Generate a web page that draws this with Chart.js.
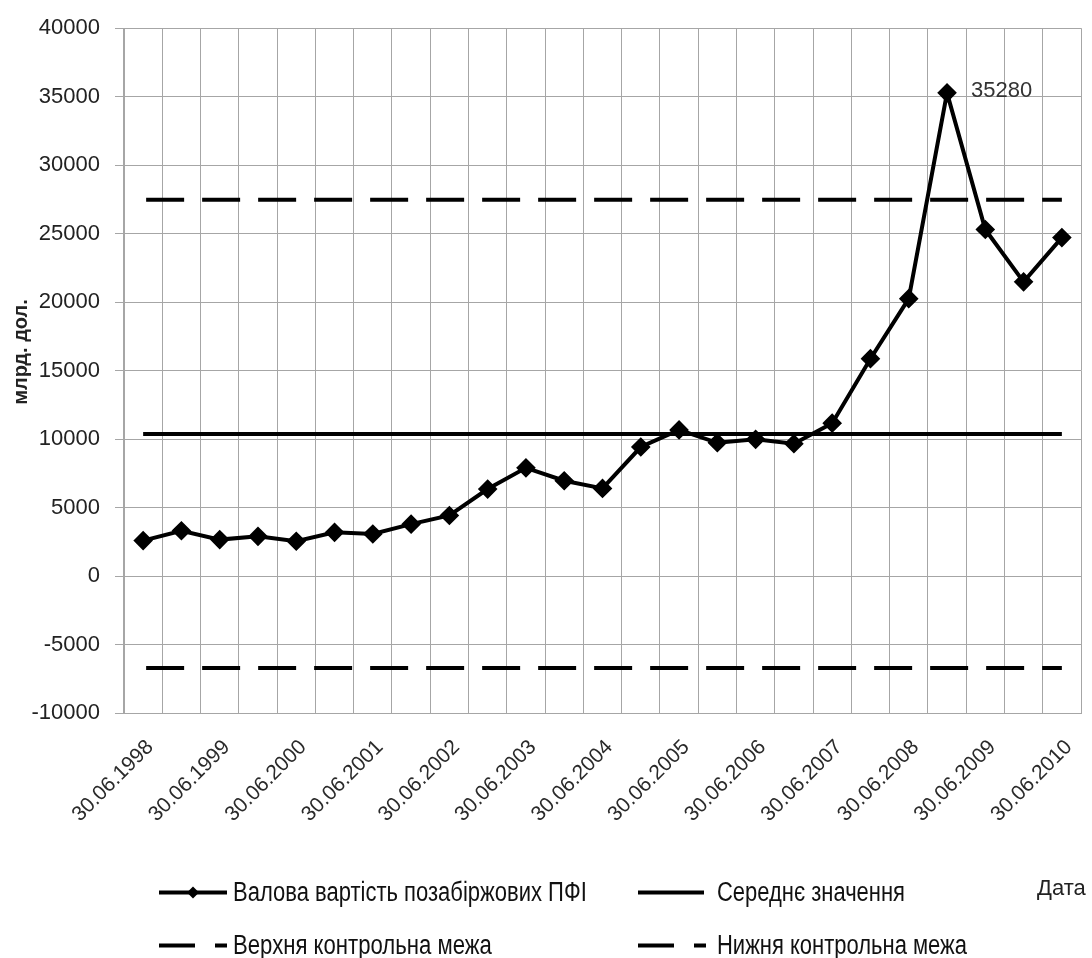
<!DOCTYPE html>
<html>
<head>
<meta charset="utf-8">
<script src="https://cdn.jsdelivr.net/npm/chart.js@4.4.1/dist/chart.umd.min.js"></script>
<style>
  html, body { margin: 0; padding: 0; background: #ffffff; }
  #wrap { position: relative; width: 1092px; height: 958px; overflow: hidden; background: #fff; }
  #c { position: absolute; left: 0; top: 0; }
  .leg { position: absolute; display: flex; align-items: center; font-family: "Liberation Sans", Arial, sans-serif; font-size: 27px; color: #111; white-space: nowrap; }
  .leg svg { flex: none; }
  .leg span { display: inline-block; transform-origin: left center; }
  #xtitle { position: absolute; font-family: "Liberation Sans", Arial, sans-serif; font-size: 22px; color: #222; transform: translateY(-50%); }
</style>
</head>
<body>
<div id="wrap">
  <canvas id="c" width="1092" height="958"></canvas>
  <div class="leg" id="leg1" style="left:158px; top:892px;"></div>
  <div class="leg" id="leg2" style="left:637px; top:892px;"></div>
  <div class="leg" id="leg3" style="left:158px; top:945px;"></div>
  <div class="leg" id="leg4" style="left:637px; top:945px;"></div>
  <div id="xtitle" style="left:1037px; top:888px;">Дата</div>
</div>
<script>
// ---- data ----
const categories = [
  "30.06.1998","31.12.1998","30.06.1999","31.12.1999","30.06.2000","31.12.2000",
  "30.06.2001","31.12.2001","30.06.2002","31.12.2002","30.06.2003","31.12.2003",
  "30.06.2004","31.12.2004","30.06.2005","31.12.2005","30.06.2006","31.12.2006",
  "30.06.2007","31.12.2007","30.06.2008","31.12.2008","30.06.2009","31.12.2009",
  "30.06.2010"
];
const grossValue = [2590, 3310, 2660, 2900, 2540, 3190, 3070, 3790, 4420, 6350,
  7900, 6960, 6400, 9420, 10670, 9730, 9980, 9660, 11160, 15870,
  20250, 35280, 25300, 21480, 24710];
const meanValue = 10380;
const upperLimit = 27480;
const lowerLimit = -6720;
const yTicks = [-10000, -5000, 0, 5000, 10000, 15000, 20000, 25000, 30000, 35000, 40000];
const seriesNames = ["Валова вартість позабіржових ПФІ", "Середнє значення",
  "Верхня контрольна межа", "Нижня контрольна межа"];
const yAxisTitle = "млрд. дол.";
const peakLabelIndex = 21;

const meanSeries = categories.map(() => meanValue);
const upperSeries = categories.map(() => upperLimit);
const lowerSeries = categories.map(() => lowerLimit);

const extraText = {
  id: 'extraText',
  afterDatasetsDraw(chart) {
    const meta = chart.getDatasetMeta(0);
    const pt = meta.data[peakLabelIndex];
    const ctx = chart.ctx;
    ctx.save();
    ctx.font = '22px "Liberation Sans", Arial, sans-serif';
    ctx.fillStyle = '#333';
    ctx.textAlign = 'left';
    ctx.textBaseline = 'middle';
    ctx.fillText(String(grossValue[peakLabelIndex]), pt.x + 24, pt.y - 2);
    ctx.restore();
    // y-axis title (rotated), placed like the original
    ctx.save();
    ctx.translate(21, 352);
    ctx.rotate(-Math.PI / 2);
    ctx.font = 'bold 20px "Liberation Sans", Arial, sans-serif';
    ctx.fillStyle = '#222';
    ctx.textAlign = 'center';
    ctx.textBaseline = 'middle';
    ctx.fillText(yAxisTitle, 0, 0);
    ctx.restore();
  }
};

const ctx = document.getElementById('c').getContext('2d');
const chart = new Chart(ctx, {
  type: 'line',
  data: {
    labels: categories,
    datasets: [
      { label: seriesNames[0], data: grossValue, borderColor: '#000', backgroundColor: '#000',
        borderWidth: 4, pointStyle: 'rectRot', pointRadius: 7, pointHoverRadius: 7,
        pointBackgroundColor: '#000', pointBorderColor: '#000', tension: 0, order: 0 },
      { label: seriesNames[1], data: meanSeries, borderColor: '#000', borderWidth: 4,
        pointRadius: 0, tension: 0, order: 1 },
      { label: seriesNames[2], data: upperSeries, borderColor: '#000', borderWidth: 4,
        borderDash: [38, 18], borderDashOffset: 53, pointRadius: 0, tension: 0, order: 2 },
      { label: seriesNames[3], data: lowerSeries, borderColor: '#000', borderWidth: 4,
        borderDash: [38, 18], borderDashOffset: 53, pointRadius: 0, tension: 0, order: 3 }
    ]
  },
  options: {
    responsive: false,
    animation: false,
    devicePixelRatio: 1,
    layout: { padding: { top: 22, right: 9, left: 0, bottom: 0 } },
    plugins: { legend: { display: false }, tooltip: { enabled: false } },
    scales: {
      x: {
        type: 'category',
        offset: true,
        grid: { offset: true, color: '#a6a6a6', lineWidth: 1, drawTicks: false },
        border: { display: true, color: '#a6a6a6', width: 1 },
        ticks: {
          autoSkip: false, maxRotation: 45, minRotation: 45, padding: 22, labelOffset: 7,
          color: '#2a2a2a',
          font: { family: '"Liberation Sans", Arial, sans-serif', size: 21 },
          callback: function(value, index) { return index % 2 === 0 ? categories[index] : ''; }
        },
        afterFit: (scale) => { scale.height = 245; scale.paddingLeft = 0; scale.paddingRight = 0; }
      },
      y: {
        min: -10000, max: 40000,
        afterBuildTicks: (scale) => { scale.ticks = yTicks.map(v => ({ value: v })); },
        grid: { color: '#a6a6a6', lineWidth: 1, tickLength: 9 },
        border: { display: true, color: '#a6a6a6', width: 1 },
        ticks: {
          padding: 15, color: '#222',
          font: { family: '"Liberation Sans", Arial, sans-serif', size: 22 },
          callback: (v) => String(v)
        },
        afterFit: (scale) => { scale.width = 124; }
      }
    }
  },
  plugins: [extraText]
});

// ---- HTML legend ----
function icon(kind) {
  const w = 70, h = 20, y = 10;
  let inner = '';
  if (kind === 'marker') {
    inner = `<line x1="1" y1="${y}" x2="${w-1}" y2="${y}" stroke="#000" stroke-width="4"/>` +
            `<polygon points="${w/2},${y-6} ${w/2+6},${y} ${w/2},${y+6} ${w/2-6},${y}" fill="#000"/>`;
  } else if (kind === 'solid') {
    inner = `<line x1="1" y1="${y}" x2="${w-3}" y2="${y}" stroke="#000" stroke-width="4"/>`;
  } else {
    inner = `<line x1="1" y1="${y}" x2="37" y2="${y}" stroke="#000" stroke-width="4"/>` +
            `<line x1="57" y1="${y}" x2="${w-1}" y2="${y}" stroke="#000" stroke-width="4"/>`;
  }
  return `<svg width="${w}" height="${h}" viewBox="0 0 ${w} ${h}">${inner}</svg>`;
}
const kinds = ['marker', 'solid', 'dash', 'dash'];
const targetWidths = [354, 188, 259, 250];
const gaps = [5, 10, 5, 10];
['leg1','leg2','leg3','leg4'].forEach((id, i) => {
  const el = document.getElementById(id);
  el.innerHTML = icon(kinds[i]) + '<span style="margin-left:' + gaps[i] + 'px">' + seriesNames[i] + '</span>';
  el.style.transform = 'translateY(-50%)';
  const sp = el.querySelector('span');
  const w = sp.getBoundingClientRect().width;
  if (w > 0) sp.style.transform = 'scaleX(' + (targetWidths[i] / w).toFixed(3) + ')';
});
</script>
</body>
</html>
